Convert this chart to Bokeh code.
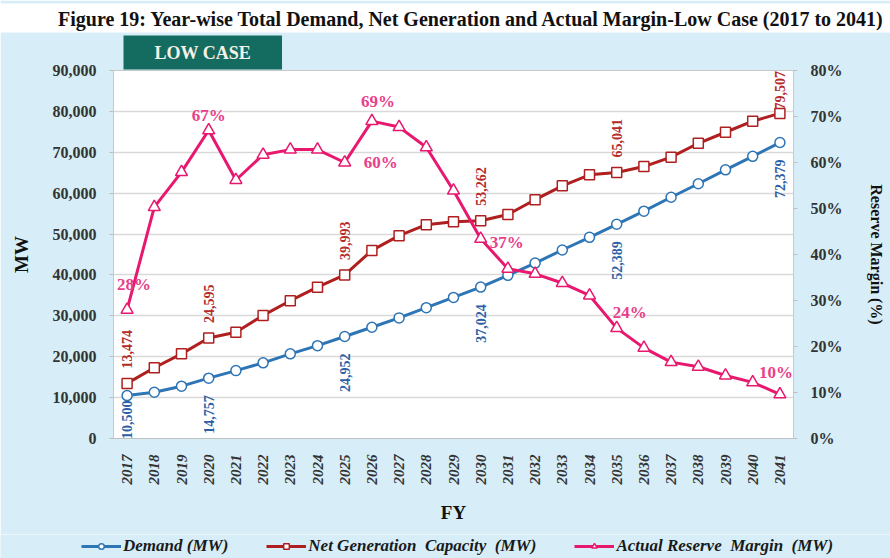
import math
from bokeh.plotting import figure
from bokeh.models import (ColumnDataSource, FactorRange, Range1d, LinearAxis, LabelSet, Title,
                          Legend, LegendItem, NumeralTickFormatter, PrintfTickFormatter,
                          SingleIntervalTicker)
from bokeh.embed import file_html
from bokeh.resources import INLINE
from bokeh.core.properties import value

# ---------------- data ----------------
years = [str(y) for y in range(2017, 2042)]
demand_mw = [10500, 11300, 12800, 14757, 16600, 18500, 20700, 22700, 24952,
             27200, 29500, 32000, 34500, 37024, 39900, 42900, 46100, 49200, 52389,
             55600, 59000, 62300, 65700, 69000, 72379]
net_generation_mw = [13474, 17300, 20700, 24595, 26000, 30100, 33700, 37000, 39993,
                     46000, 49600, 52300, 53000, 53262, 54800, 58400, 61800, 64500, 65041,
                     66500, 68800, 72200, 74900, 77600, 79507]
reserve_margin_pct = [28, 50.3, 57.9, 67, 56.2, 61.7, 62.8, 62.8, 60,
                      69, 67.7, 63.3, 53.9, 43.4, 36.9, 35.8, 33.8, 31.1, 24,
                      19.7, 16.6, 15.6, 13.7, 12.2, 9.6]

mw_label_years = ["2017", "2020", "2025", "2030", "2035", "2041"]
margin_label_years = ["2017", "2020", "2025", "2026", "2030", "2035", "2041"]
margin_label_texts = ["28%", "67%", "60%", "69%", "37%", "24%", "10%"]

title_text = "Figure 19: Year-wise Total Demand, Net Generation and Actual Margin-Low Case (2017 to 2041)"
case_text = "LOW CASE"
series_names = ["Demand (MW)", "Net Generation  Capacity  (MW)", "Actual Reserve  Margin  (MW)"]

# ---------------- style ----------------
FONT = "Liberation Serif"
BG = "#d7eef8"
BLUE, BLUE_TXT = "#2e75b6", "#2d5fa6"
RED, RED_TXT = "#b01f1f", "#b52a2a"
PINK, PINK_TXT = "#e8186f", "#e8408a"
AX_TXT = "#333333"
W = 890
STYLES = [dict(color=BLUE, marker="circle", size=10),
          dict(color=RED, marker="square", size=10),
          dict(color=PINK, marker="triangle", size=12)]

main_title = Title(text=title_text, align="center", standoff=0,
                   text_font=FONT, text_font_style="bold", text_font_size="20px",
                   text_color="#111111", background_fill_color="white",
                   padding=dict(left=340, right=304, top=4, bottom=3))

p = figure(width=W, height=534, x_range=FactorRange(factors=years),
           y_range=Range1d(0, 90000), toolbar_location=None, output_backend="svg",
           title=main_title,
           min_border_left=113, min_border_right=97, min_border_top=70, min_border_bottom=96,
           background_fill_color="white", border_fill_color=BG,
           outline_line_color="#c8c8c8")
p.extra_y_ranges = {"pct": Range1d(0, 80)}

p.add_layout(Title(text=case_text, align="left", offset=10, standoff=2,
                   text_font=FONT, text_font_style="bold", text_font_size="18px",
                   text_color="#f4f1e6", background_fill_color="#146b60",
                   padding=dict(left=31, right=31, top=7, bottom=7)), "above")

p.xgrid.grid_line_color = None
p.ygrid.grid_line_color = "#d9d9d9"
p.ygrid.grid_line_width = 1.5

ly = p.yaxis[0]
ly.ticker = SingleIntervalTicker(interval=10000)
ly.formatter = NumeralTickFormatter(format="0,0")
ly.axis_label = "MW"

ry = LinearAxis(y_range_name="pct", ticker=SingleIntervalTicker(interval=10),
                formatter=PrintfTickFormatter(format="%d%%"), axis_label="Reserve Margin (%)")
p.add_layout(ry, "right")

for ax in (ly, ry):
    ax.axis_line_color = None
    ax.major_tick_line_color = "#bfbfbf"
    ax.major_tick_in = 0
    ax.major_tick_out = 4
    ax.minor_tick_line_color = None
    ax.major_label_standoff = 13
    ax.major_label_text_font = FONT
    ax.major_label_text_font_style = "bold"
    ax.major_label_text_font_size = "16px"
    ax.major_label_text_color = AX_TXT
    ax.axis_label_text_font = FONT
    ax.axis_label_text_font_style = "bold"
    ax.axis_label_text_color = "#111111"
ly.axis_label_text_font_size = "19px"
ly.axis_label_standoff = 18
ry.axis_label_text_font_size = "16px"
ry.axis_label_standoff = 22

xa = p.xaxis[0]
xa.axis_line_color = "#bfbfbf"
xa.major_tick_line_color = None
xa.minor_tick_line_color = None
xa.major_label_orientation = math.pi / 2
xa.major_label_standoff = 10
xa.major_label_text_font = FONT
xa.major_label_text_font_style = "bold italic"
xa.major_label_text_font_size = "15px"
xa.major_label_text_color = AX_TXT
xa.axis_label = "FY"
xa.axis_label_standoff = 14
xa.axis_label_text_font = FONT
xa.axis_label_text_font_style = "bold"
xa.axis_label_text_font_size = "19px"
xa.axis_label_text_color = "#111111"

src = ColumnDataSource(dict(year=years, demand=demand_mw, net=net_generation_mw,
                            margin=reserve_margin_pct))

for col, st, rng in zip(["demand", "net", "margin"], STYLES, ["default", "default", "pct"]):
    p.line("year", col, source=src, line_color=st["color"], line_width=3, y_range_name=rng)
    p.scatter("year", col, source=src, marker=st["marker"], size=st["size"], fill_color="white",
              line_color=st["color"], line_width=1.5, y_range_name=rng)

# data labels (offsets in screen pixels are styling only)
idx = {y: i for i, y in enumerate(years)}
dl_src = ColumnDataSource(dict(
    year=mw_label_years,
    val=[demand_mw[idx[y]] for y in mw_label_years],
    txt=[f"{demand_mw[idx[y]]:,}" for y in mw_label_years],
    dy=[-5, -17, -17, -17, -17, -17]))
nl_src = ColumnDataSource(dict(
    year=mw_label_years,
    val=[net_generation_mw[idx[y]] for y in mw_label_years],
    txt=[f"{net_generation_mw[idx[y]]:,}" for y in mw_label_years],
    dy=[15, 15, 15, 15, 15, 4]))
p.add_layout(LabelSet(x="year", y="val", text="txt", source=dl_src, angle=90, angle_units="deg",
                      text_align="right", text_baseline="middle", y_offset="dy",
                      text_font=value(FONT), text_font_style="bold", text_font_size="14px",
                      text_color=BLUE_TXT))
p.add_layout(LabelSet(x="year", y="val", text="txt", source=nl_src, angle=90, angle_units="deg",
                      text_align="left", text_baseline="middle", y_offset="dy",
                      text_font=value(FONT), text_font_style="bold", text_font_size="14px",
                      text_color=RED_TXT))

m_dx = [7, 0, 36, 6, 26, 13, -4]
m_dy = [25, 15, 0, 20, -4, 16, 22]
ml_src = ColumnDataSource(dict(
    year=margin_label_years,
    val=[reserve_margin_pct[idx[y]] for y in margin_label_years],
    txt=margin_label_texts, dx=m_dx, dy=m_dy))
p.add_layout(LabelSet(x="year", y="val", text="txt", source=ml_src, y_range_name="pct",
                      x_offset="dx", y_offset="dy", text_align="center", text_baseline="middle",
                      text_font=value(FONT), text_font_style="bold", text_font_size="17px",
                      text_color=PINK_TXT))

# ---------------- legend strip ----------------
lf = figure(width=W, height=24, x_range=Range1d(0, 1), y_range=Range1d(0, 1),
            x_axis_type=None, y_axis_type=None, toolbar_location=None, output_backend="svg",
            min_border=0, outline_line_color=None, background_fill_color=BG,
            border_fill_color=BG)
lf.grid.visible = False
items = []
for name, st in zip(series_names, STYLES):
    # legend proxies, placed outside the strip's visible range
    r_line = lf.line(x=[2, 3], y=[2, 2], line_color=st["color"], line_width=3)
    r_mark = lf.scatter(x=[2], y=[2], marker=st["marker"], size=st["size"] - 1, fill_color="white",
                        line_color=st["color"], line_width=1.5)
    items.append(LegendItem(label=name, renderers=[r_line, r_mark]))
lf.add_layout(Legend(items=items, orientation="horizontal", location=(81, 2),
                     label_text_font=FONT, label_text_font_style="bold italic",
                     label_text_font_size="17px", label_text_color="#1a1a1a",
                     glyph_width=40, glyph_height=14, label_height=18, spacing=38,
                     label_standoff=2, padding=0, margin=0, border_line_color=None,
                     background_fill_alpha=0),
              "center")

open("out.html", "w").write(file_html([p, lf], INLINE))
